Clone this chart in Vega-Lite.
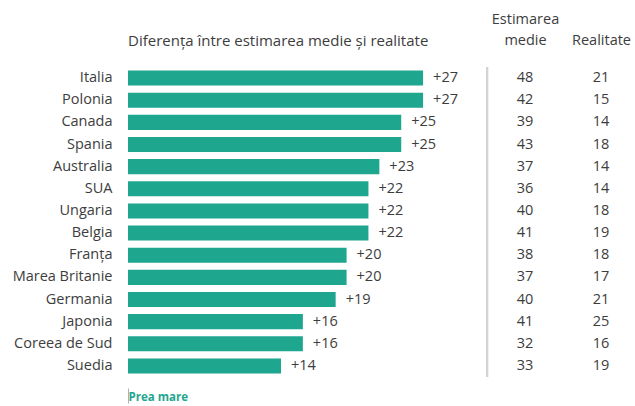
{
  "$schema": "https://vega.github.io/schema/vega-lite/v6.json",
  "width": 507,
  "height": 310,
  "autosize": {"type": "none"},
  "padding": {"left": 128, "top": 67, "right": 0, "bottom": 29},
  "background": "white",
  "config": {"font": "Open Sans", "view": {"stroke": null}},
  "title": {"text": "Diferența între estimarea medie și realitate", "anchor": "start", "frame": "group", "fontSize": 15, "fontWeight": "normal", "color": "#3d3d3d", "offset": -38, "font": "Open Sans"},
  "data": {"values": [
    {"tara": "Italia", "dif": 27, "estimare": 48, "realitate": 21},
    {"tara": "Polonia", "dif": 27, "estimare": 42, "realitate": 15},
    {"tara": "Canada", "dif": 25, "estimare": 39, "realitate": 14},
    {"tara": "Spania", "dif": 25, "estimare": 43, "realitate": 18},
    {"tara": "Australia", "dif": 23, "estimare": 37, "realitate": 14},
    {"tara": "SUA", "dif": 22, "estimare": 36, "realitate": 14},
    {"tara": "Ungaria", "dif": 22, "estimare": 40, "realitate": 18},
    {"tara": "Belgia", "dif": 22, "estimare": 41, "realitate": 19},
    {"tara": "Franța", "dif": 20, "estimare": 38, "realitate": 18},
    {"tara": "Marea Britanie", "dif": 20, "estimare": 37, "realitate": 17},
    {"tara": "Germania", "dif": 19, "estimare": 40, "realitate": 21},
    {"tara": "Japonia", "dif": 16, "estimare": 41, "realitate": 25},
    {"tara": "Coreea de Sud", "dif": 16, "estimare": 32, "realitate": 16},
    {"tara": "Suedia", "dif": 14, "estimare": 33, "realitate": 19}
  ]},
  "layer": [
    {
      "layer": [
        {
          "mark": {"type": "bar", "color": "#1fa68f"},
          "encoding": {
            "y": {"field": "tara", "type": "nominal", "sort": null,
                  "scale": {"paddingInner": 0.32, "paddingOuter": 0.16},
                  "axis": {"title": null, "ticks": false, "domain": false, "labelPadding": 16, "labelFontSize": 14.5, "labelColor": "#3d3d3d", "labelFont": "Open Sans"}},
            "x": {"field": "dif", "type": "quantitative",
                  "scale": {"domain": [0, 46.39], "nice": false},
                  "axis": {"orient": "bottom", "values": [0], "title": null, "grid": false, "domain": false,
                           "tickSize": 15, "tickColor": "#b0b0b0", "offset": 11,
                           "labelExpr": "'Prea mare'", "labelAlign": "left", "labelBaseline": "middle",
                           "labelDx": 6, "labelPadding": -6, "labelColor": "#1fa68f", "labelFontWeight": "bold",
                           "labelFontSize": 11.5, "labelFont": "Open Sans", "labelFlush": false}}
          }
        },
        {
          "mark": {"type": "text", "align": "left", "dx": 10, "fontSize": 14.5, "color": "#3d3d3d", "font": "Open Sans"},
          "encoding": {
            "y": {"field": "tara", "type": "nominal", "sort": null},
            "x": {"field": "dif", "type": "quantitative"},
            "text": {"field": "dif", "format": "+d"}
          }
        },
        {
          "mark": {"type": "rule", "color": "#d4d4d4", "strokeWidth": 2},
          "encoding": {"x": {"datum": 32.85}}
        }
      ]
    },
    {
      "transform": [{"fold": ["estimare", "realitate"], "as": ["col", "val"]}],
      "mark": {"type": "text", "fontSize": 14.5, "color": "#3d3d3d", "font": "Open Sans"},
      "encoding": {
        "y": {"field": "tara", "type": "nominal", "sort": null},
        "x": {"field": "col", "type": "nominal",
              "scale": {"type": "point", "range": [397, 473], "padding": 0},
              "axis": {"orient": "top", "title": null, "ticks": false, "domain": false, "labelAngle": 0,
                       "labelExpr": "datum.value == 'estimare' ? ['Estimarea', 'medie'] : ['', 'Realitate']",
                       "labelPadding": 41, "labelLineHeight": 21, "labelFontSize": 14.5, "labelColor": "#3d3d3d", "labelFont": "Open Sans"}},
        "text": {"field": "val", "type": "quantitative"}
      }
    }
  ],
  "resolve": {"scale": {"x": "independent"}, "axis": {"x": "independent"}}
}
